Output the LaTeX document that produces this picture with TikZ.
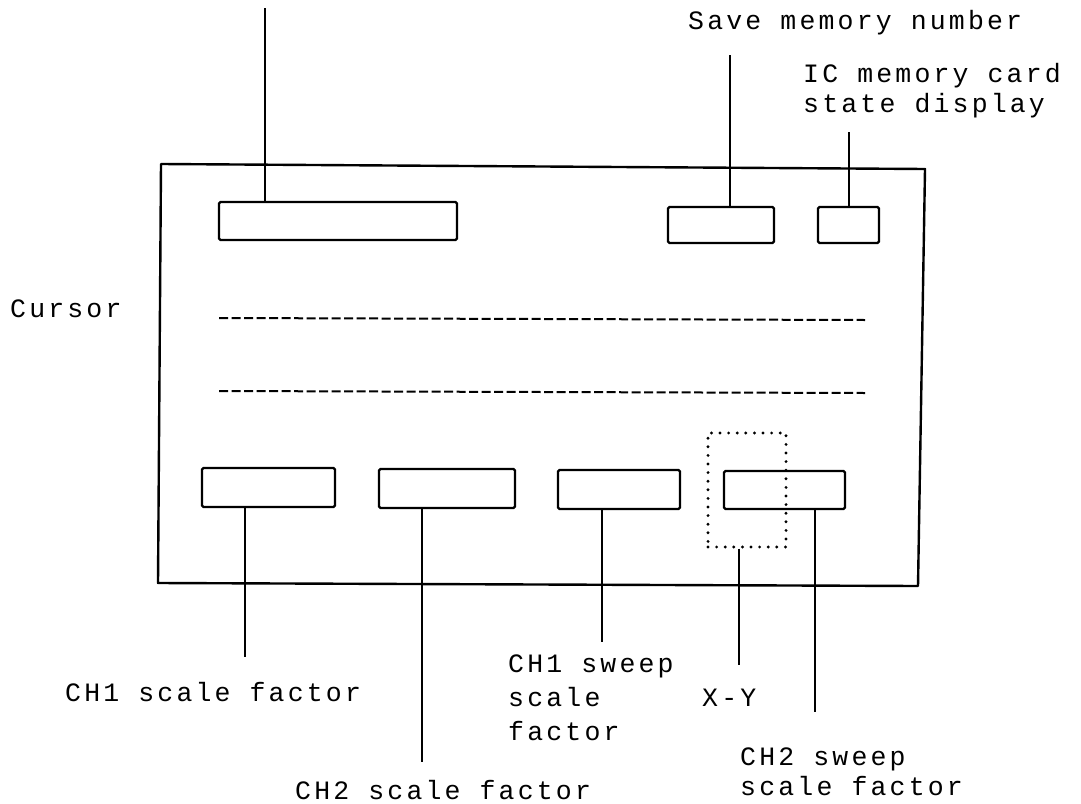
\documentclass[tikz,border=0pt]{standalone}
\usepackage{fontspec}
\setmonofont[LetterSpace=12]{Liberation Mono}
\begin{document}
\begin{tikzpicture}[x=1pt,y=-1pt,
  lbl/.style={font=\fontsize{26.5}{30}\selectfont\ttfamily, anchor=base west, inner sep=0pt, align=left},
  boxx/.style={draw, line width=2.4pt, rounded corners=1.5pt, inner sep=0pt},
  lead/.style={line width=1.8pt},
  frame/.style={line width=2.4pt, line join=round},
  cursorline/.style={line width=2pt, dash pattern=on 9pt off 3.5pt},
  dotbox/.style={line width=3.2pt, line cap=round, dash pattern=on 0pt off 8.6pt}]
\useasboundingbox (0,0) rectangle (1081,803);
% outer frame
\draw[frame] (161,164) -- (925,169) -- (918,586) -- (158,583) -- cycle;
% top boxes
\node[boxx, minimum width=238pt, minimum height=38pt] (tl) at (338,221) {};
\node[boxx, minimum width=106pt, minimum height=36pt] (sm) at (721,225) {};
\node[boxx, minimum width=61pt, minimum height=36pt] (ic) at (848.5,225) {};
% bottom boxes
\node[boxx, minimum width=133pt, minimum height=39pt] (b1) at (268.5,487.5) {};
\node[boxx, minimum width=136pt, minimum height=39pt] (b2) at (447,488.5) {};
\node[boxx, minimum width=122pt, minimum height=39pt] (b3) at (619,489.5) {};
\node[boxx, minimum width=121pt, minimum height=38pt] (b4) at (784.5,490) {};
% dotted X-Y box
\node[dotbox, draw, minimum width=78pt, minimum height=114pt, inner sep=0pt] (xy) at (747,490) {};
% cursor lines
\coordinate (c1a) at (219,318);
\coordinate (c1b) at (865,320);
\coordinate (c2a) at (219,391);
\coordinate (c2b) at (865,393);
\draw[cursorline] (c1a) -- (c1b);
\draw[cursorline] (c2a) -- (c2b);
% labels (anchor base = baseline of last line)
\node[lbl] (lsave) at (688,29) {Save memory number};
\node[lbl] (lic) at (803,112) {IC memory card\\state display};
\node[lbl] (lcur) at (10,317) {Cursor};
\node[lbl] (lch1) at (65,701) {CH1 scale factor};
\node[lbl] (lch2) at (295,799) {CH2 scale factor};
\node[lbl, font=\fontsize{26.5}{34}\selectfont\ttfamily] (lsw1) at (508,740) {CH1 sweep\\scale\\factor};
\node[lbl] (lxy) at (702,706) {X-Y};
\node[lbl] (lsw2) at (740,795) {CH2 sweep\\scale factor};
% leader free ends
\coordinate (etl) at (265,8);
\coordinate (esm) at (730,55);
\coordinate (eic) at (849,132);
\coordinate (e1) at (245,657);
\coordinate (e2) at (422,762);
\coordinate (e3) at (602,642);
\coordinate (exy) at (739,665);
\coordinate (e4) at (815,712);
% leaders
\draw[lead] (etl) -- (etl |- tl.north);
\draw[lead] (esm) -- (esm |- sm.north);
\draw[lead] (eic) -- (eic |- ic.north);
\draw[lead] (e1 |- b1.south) -- (e1);
\draw[lead] (e2 |- b2.south) -- (e2);
\draw[lead] (e3 |- b3.south) -- (e3);
\draw[lead] (exy |- xy.south) -- (exy);
\draw[lead] (e4 |- b4.south) -- (e4);
\end{tikzpicture}
\end{document}
